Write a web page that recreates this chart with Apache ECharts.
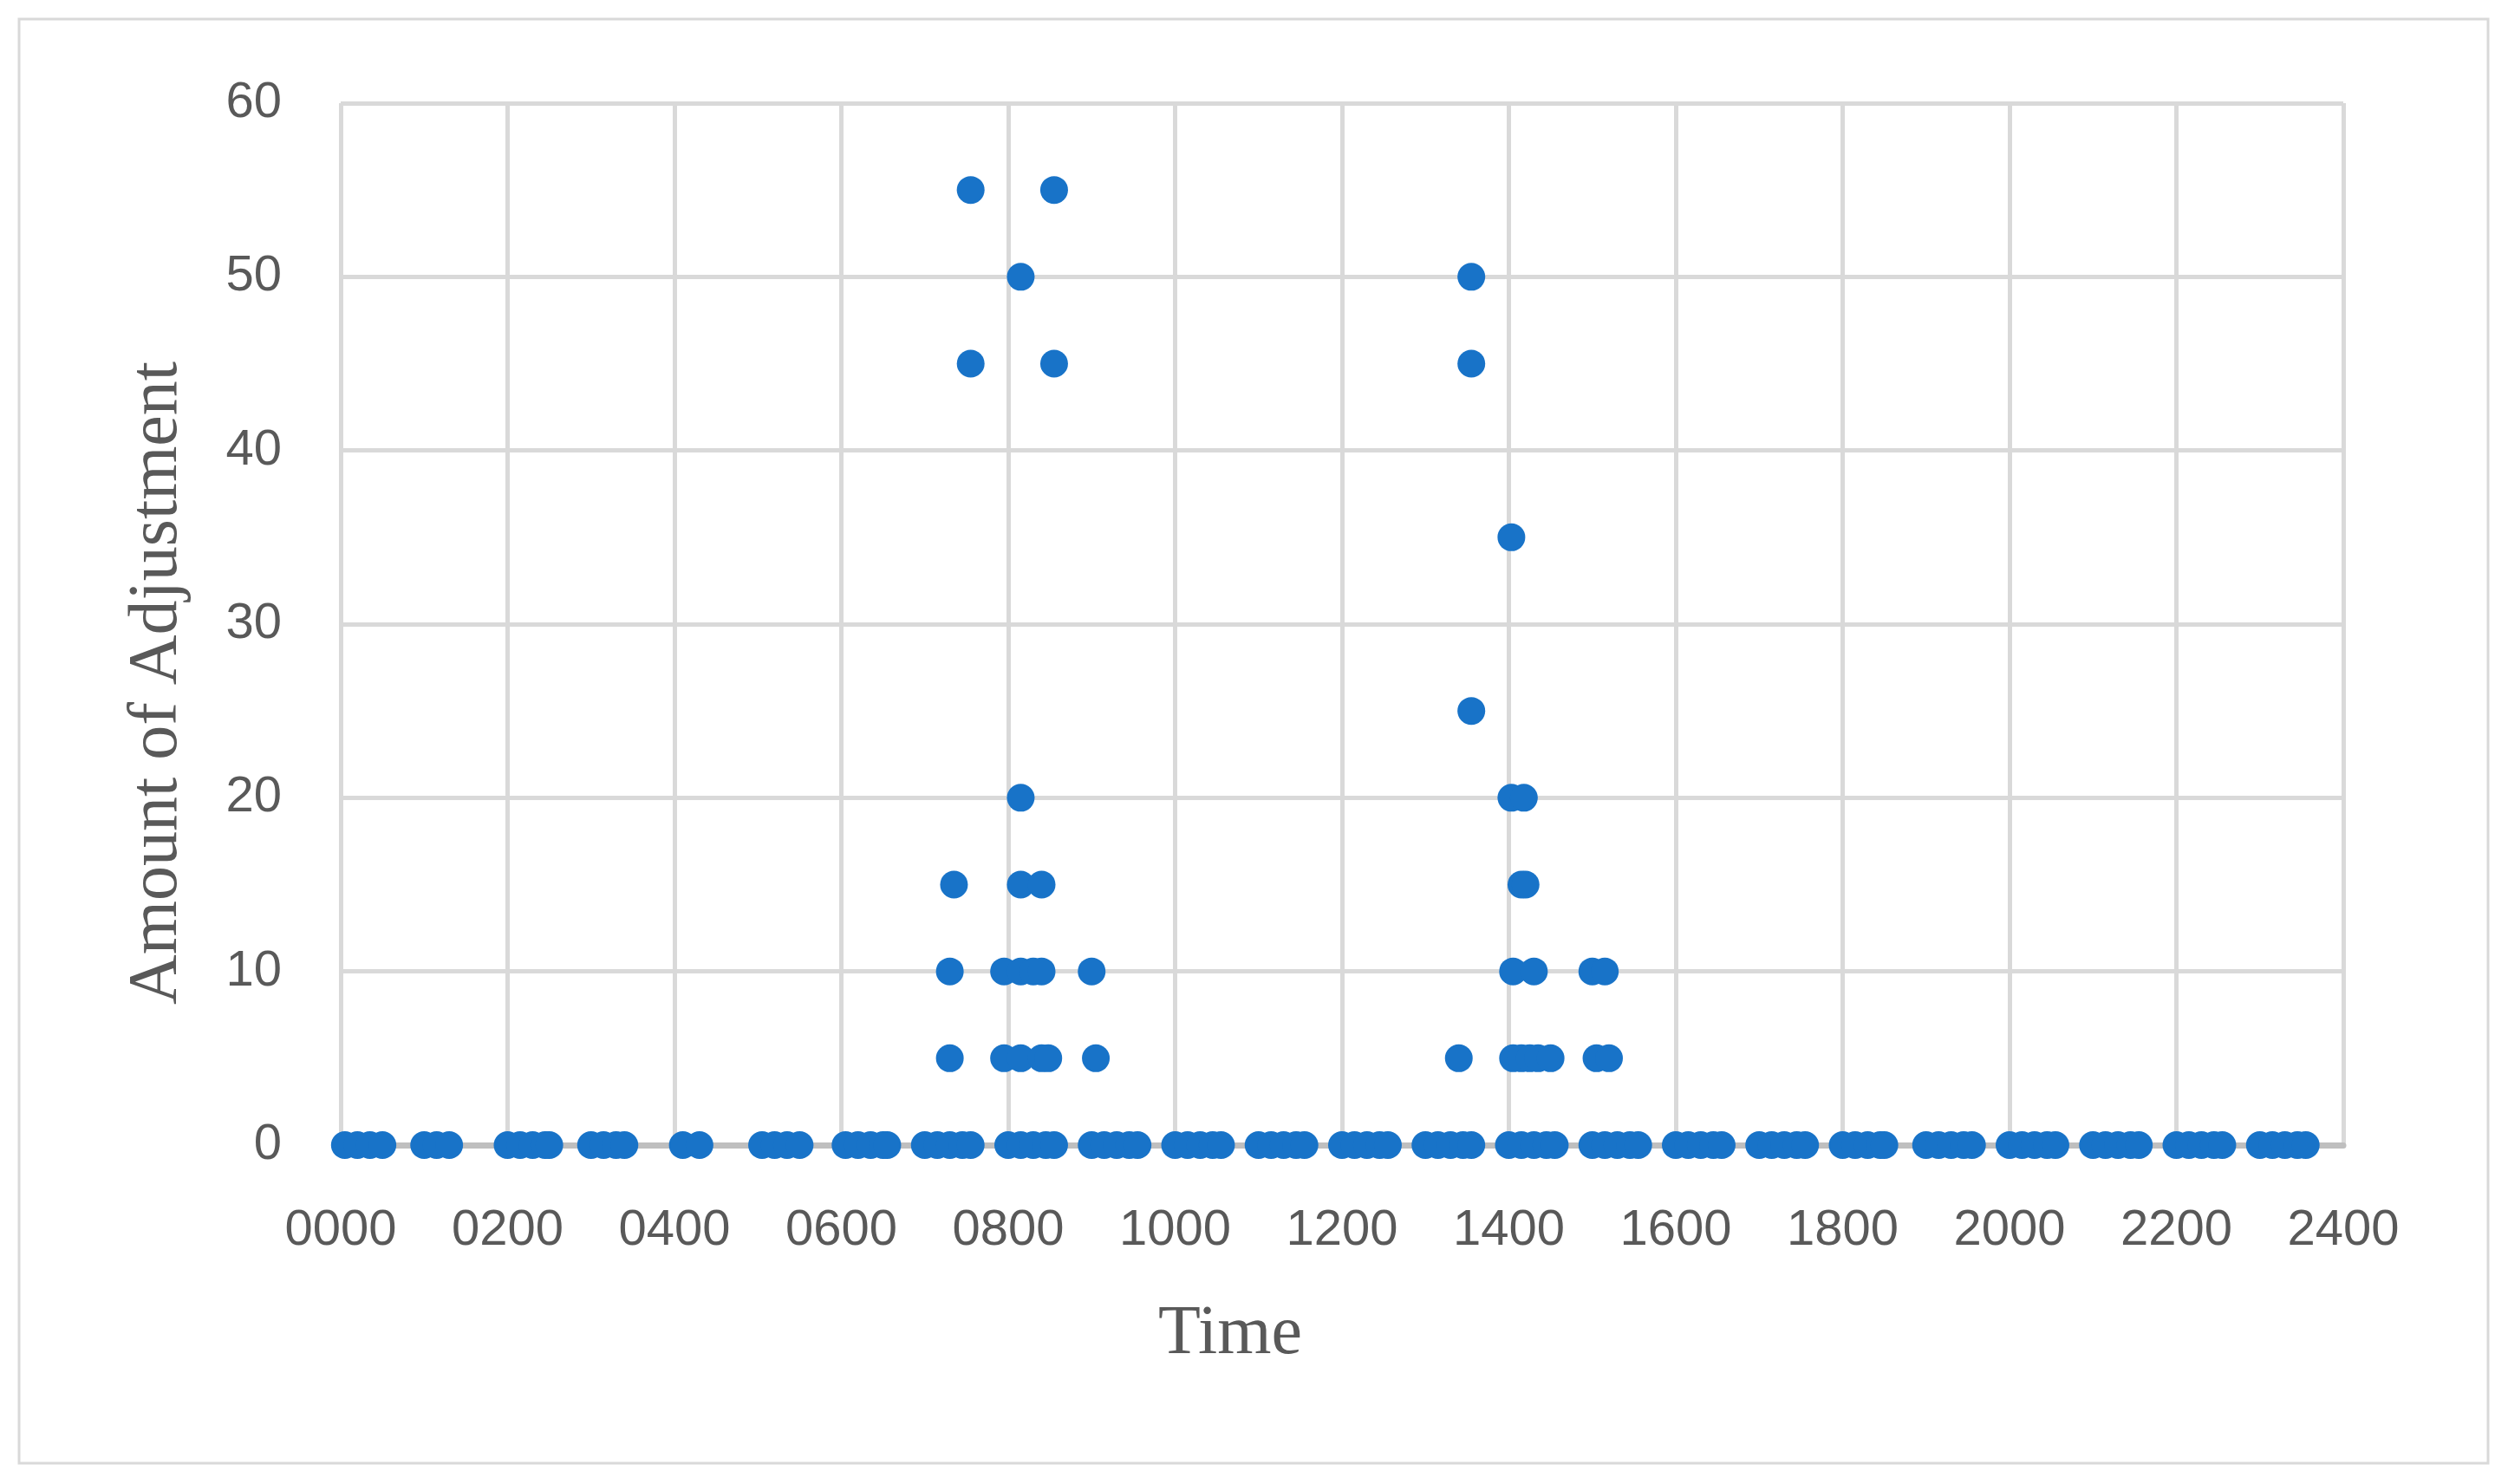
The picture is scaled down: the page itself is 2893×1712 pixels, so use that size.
<!DOCTYPE html>
<html>
<head>
<meta charset="utf-8">
<script src="https://cdn.jsdelivr.net/npm/echarts@6/dist/echarts.min.js"></script>
<style>
  html, body { margin: 0; padding: 0; background: #fff; }
  #chart { width: 2893px; height: 1712px; }
</style>
</head>
<body>
<div id="chart"></div>
<script>
// times (HHMM as number) where the adjustment was 0
var zeroTimes = [
  5, 20, 35, 50,
  100, 115, 130,
  200, 215, 230, 245, 250,
  300, 315, 330, 340,
  410, 430,
  505, 520, 535, 550,
  605, 620, 635, 650, 655,
  700, 715, 730, 745, 755,
  800, 815, 830, 845, 855,
  900, 915, 930, 945, 955,
  1000, 1015, 1030, 1045, 1055,
  1100, 1115, 1130, 1145, 1155,
  1200, 1215, 1230, 1245, 1255,
  1300, 1315, 1330, 1345, 1355,
  1400, 1415, 1430, 1445, 1455,
  1500, 1515, 1530, 1545, 1555,
  1600, 1615, 1630, 1645, 1655,
  1700, 1715, 1730, 1745, 1755,
  1800, 1815, 1830, 1845, 1850,
  1900, 1915, 1930, 1945, 1955,
  2000, 2015, 2030, 2045, 2055,
  2100, 2115, 2130, 2145, 2155,
  2200, 2215, 2230, 2245, 2255,
  2300, 2315, 2330, 2345, 2355
];
// non-zero adjustments
var adjTimes = [730, 730, 735, 755, 755, 795, 795, 815, 815, 815, 815, 815, 830, 840, 840, 840, 848, 855, 855, 900, 905,
                1340, 1355, 1355, 1355, 1403, 1403, 1418, 1415, 1420, 1405, 1430, 1405, 1415, 1425, 1435, 1450,
                1500, 1515, 1505, 1520];
var adjValues = [5, 10, 15, 55, 45, 10, 5, 50, 20, 15, 10, 5, 10, 10, 15, 5, 5, 55, 45, 10, 5,
                 5, 50, 45, 25, 35, 20, 20, 15, 15, 10, 10, 5, 5, 5, 5, 5,
                 10, 10, 5, 5];

var points = [];
zeroTimes.forEach(function (t) { points.push([t, 0]); });
adjTimes.forEach(function (t, i) { points.push([t, adjValues[i]]); });

var myChart = echarts.init(document.getElementById('chart'));
var titleStyle = { fontFamily: 'Liberation Serif', fontSize: 80, fill: '#595959', textAlign: 'center', textVerticalAlign: 'middle' };
var option = {
  animation: false,
  backgroundColor: '#fff',
  graphic: [{
    type: 'rect',
    shape: { x: 22, y: 22, width: 2848, height: 1666 },
    style: { fill: 'none', stroke: '#d9d9d9', lineWidth: 3 }
  }, {
    type: 'text', x: 1419, y: 1540,
    style: echarts.util.extend({ text: 'Time' }, titleStyle)
  }, {
    type: 'text', x: 182, y: 788, rotation: Math.PI / 2,
    style: echarts.util.extend({ text: 'Amount of Adjustment' }, titleStyle)
  }],
  grid: { left: 393, right: 190, top: 119, bottom: 391 },
  xAxis: {
    type: 'value', min: 0, max: 2400, interval: 200,
    axisLine: { lineStyle: { color: '#bfbfbf', width: 7 } },
    axisTick: { show: false },
    splitLine: { lineStyle: { color: '#d9d9d9', width: 5 } },
    axisLabel: {
      fontFamily: 'Liberation Sans', fontSize: 58, color: '#595959', margin: 70,
      formatter: function (v) { return ('000' + v).slice(-4); }
    }
  },
  yAxis: {
    type: 'value', min: 0, max: 60, interval: 10,
    axisLine: { show: false },
    axisTick: { show: false },
    splitLine: { lineStyle: { color: '#d9d9d9', width: 5 } },
    axisLabel: { fontFamily: 'Liberation Sans', fontSize: 58, color: '#595959', margin: 68 }
  },
  series: [{
    type: 'scatter',
    data: points,
    symbolSize: 32,
    itemStyle: { color: '#1873C8', opacity: 1 }
  }]
};
myChart.setOption(option);
</script>
</body>
</html>
